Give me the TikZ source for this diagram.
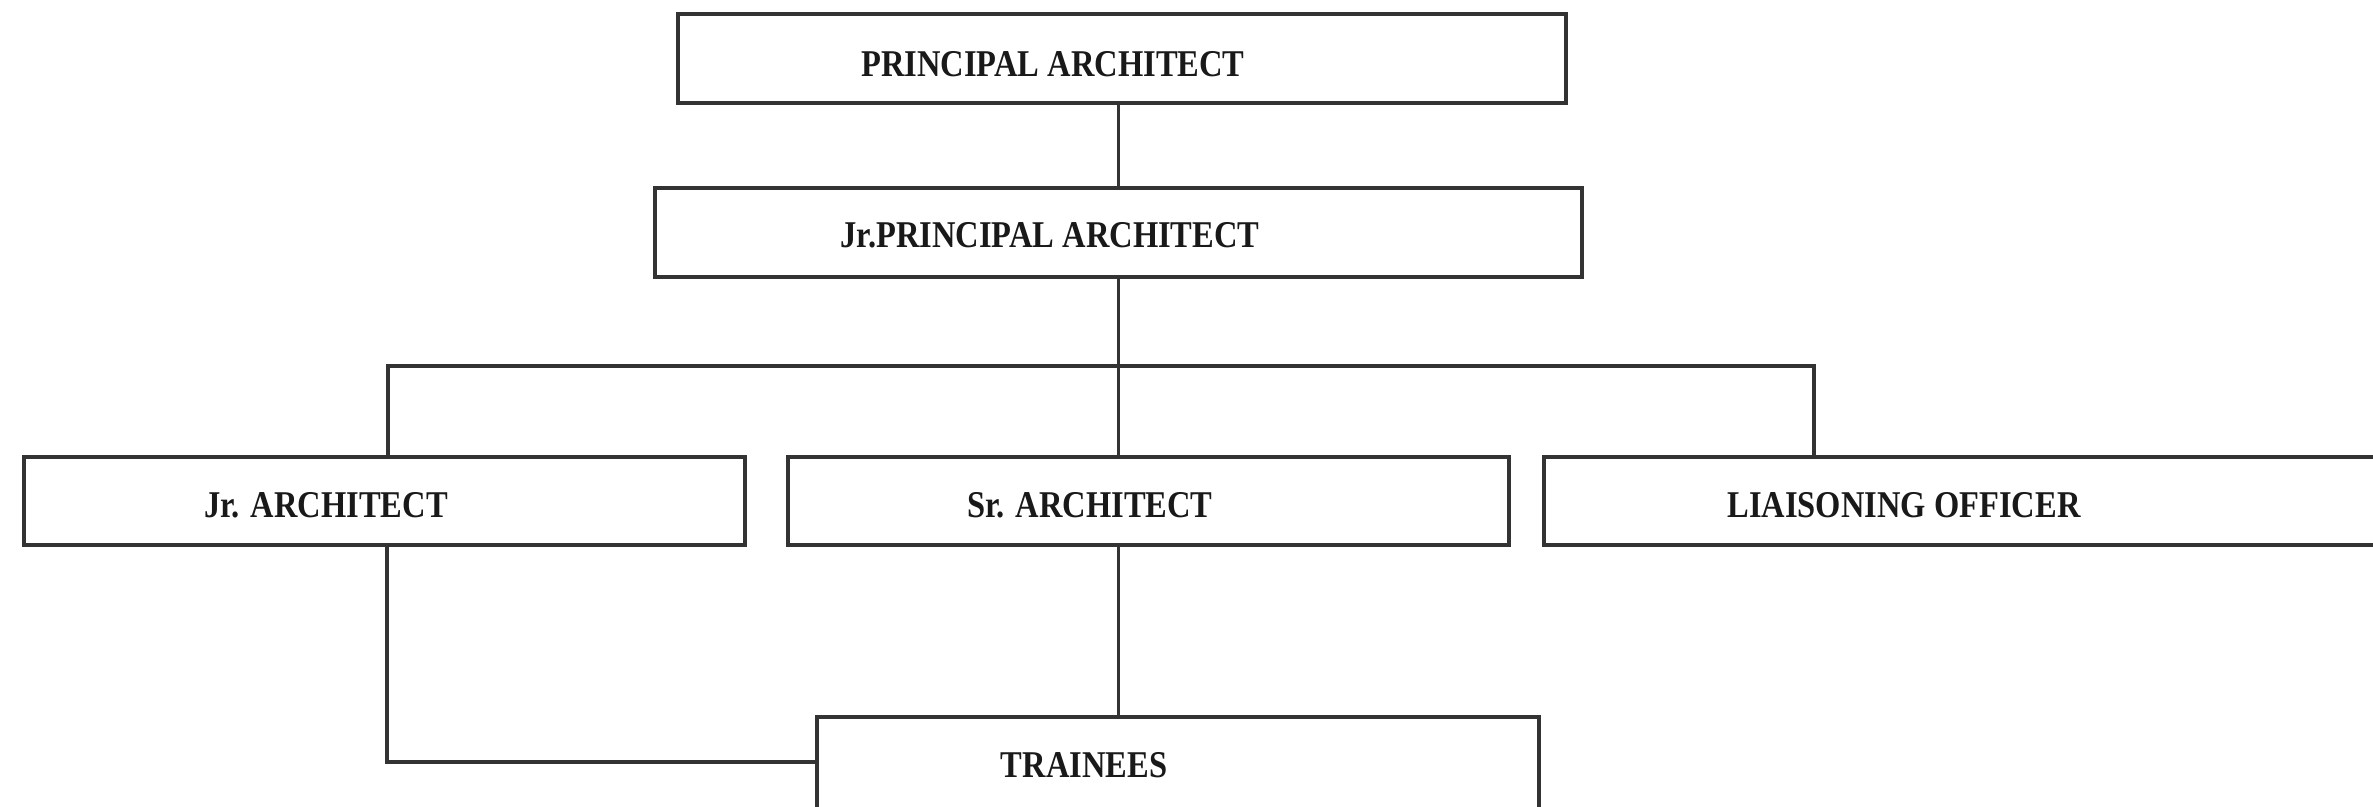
\documentclass[tikz,border=0pt]{standalone}
\usepackage{fontspec}
\newfontfamily\lblfont{Liberation Serif}[FakeStretch=0.86]
\begin{document}
\begin{tikzpicture}[x=0.01cm,y=-0.01cm,
  box/.style={draw=black!80, line width=0.9pt, rectangle, inner sep=0pt, fill=white},
  lbl/.style={inner sep=0pt, font=\lblfont\bfseries\fontsize{10.75pt}{12pt}\selectfont, text=black!90},
  conn/.style={draw=black!80, line width=0.9pt}]
\useasboundingbox (0,0) rectangle (2373,806);
\clip (0,0) rectangle (2373,806);
% boxes
\node[box, minimum width=888*0.01cm, minimum height=89*0.01cm] (pa) at (1122,58.5) {};
\node[box, minimum width=927*0.01cm, minimum height=89*0.01cm] (jpa) at (1118.5,232.5) {};
\node[box, minimum width=721*0.01cm, minimum height=88*0.01cm] (ja) at (384.5,501) {};
\node[box, minimum width=721*0.01cm, minimum height=88*0.01cm] (sa) at (1148.5,501) {};
\node[box, minimum width=900*0.01cm, minimum height=88*0.01cm] (lo) at (1994,501) {};
\node[box, minimum width=722*0.01cm, minimum height=100*0.01cm] (tr) at (1178,767) {};
% labels
\node[lbl] (tpa) at (1053,64) {PRINCIPAL ARCHITECT};
\node[lbl] (tjpa) at (1050,235) {Jr.PRINCIPAL ARCHITECT};
\node[lbl] (tja) at (326,505) {Jr. ARCHITECT};
\node[lbl] (tsa) at (1090,505) {Sr. ARCHITECT};
\node[lbl] (tlo) at (1904,505) {LIAISONING OFFICER};
\node[lbl] (ttr) at (1084,765) {TRAINEES};
% connectors
\coordinate (busL) at (388,366);
\coordinate (busM) at (1118.5,366);
\coordinate (busR) at (1814,366);
\coordinate (elb) at (387,762);
\draw[conn] (jpa.north) -- (jpa.north |- pa.south);
\draw[conn] (jpa.south) -- (busM) -- (busM |- sa.north);
\draw[conn] (busL |- ja.north) -- (busL) -- (busR) -- (busR |- lo.north);
\draw[conn] (busM |- sa.south) -- (busM |- tr.north);
\draw[conn] (elb |- ja.south) -- (elb) -- (elb -| tr.west);
\end{tikzpicture}
\end{document}
